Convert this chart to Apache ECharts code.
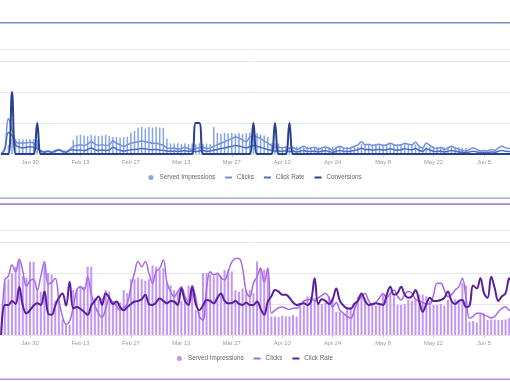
<!DOCTYPE html>
<html><head><meta charset="utf-8">
<script src="https://cdn.jsdelivr.net/npm/echarts@6/dist/echarts.min.js"></script>
<style>html,body{margin:0;padding:0;background:#fff;overflow:hidden}#c{width:510px;height:382px}</style>
</head><body><div id="c"></div>
<script>
// ---- categories (daily, Jan 22 .. Jun 13) ----
const startYear = 2017, startMonth = 0, startDay = 22, dayCount = 143;
const monthNames = ['Jan','Feb','Mar','Apr','May','Jun','Jul','Aug','Sep','Oct','Nov','Dec'];
const tickLabels = ['Jan 30','Feb 13','Feb 27','Mar 13','Mar 27','Apr 10','Apr 24','May 8','May 22','Jun 5'];
const categories = [];
for (let i = 0; i < dayCount; i++) {
  const t = new Date(Date.UTC(startYear, startMonth, startDay) + i * 864e5);
  categories.push(monthNames[t.getUTCMonth()] + ' ' + t.getUTCDate());
}

// ---- top chart (blue) ----
const topImpressions = [
  0, 0, 3, 5, 4.8, 4.8, 4.8, 4.8,
  4.8, 4.8, 4.5, 1, 0.5, 0.4, 0.6, 0.5, 0.4, 0.6,
  0.5, 0.6, 4.5, 6, 6.2, 6, 5.8, 6.2, 6, 5.8,
  6, 6.2, 5.8, 5.5, 5.5, 5.3, 5.5, 5.6, 7, 7.5,
  8.5, 8.8, 8.2, 8.7, 8.5, 8.8, 8.6, 8.4, 5, 3.5,
  3.4, 3.5, 3.2, 3.5, 3.3, 3.4, 3.2, 3.5, 3.3, 3.4,
  3.2, 8.7, 6.8, 6.6, 6.8, 6.7, 6.9, 6.6, 6.8, 6.5,
  6.7, 7, 7.2, 6.8, 6.3, 6, 5.5, 3.5, 3.5, 3.4,
  2.3, 2.4, 2.2, 2.3, 2.4, 2.3, 2.2, 2.4, 2.3, 2.3,
  2.2, 2.4, 2.3, 2.3, 2.2, 2.4, 2.3, 2.3, 2.2, 2.3,
  2.4, 2.3, 3.2, 3.3, 3.2, 3.1, 3.3, 3.2, 3.2, 3.3,
  3.2, 3.1, 3.3, 3.2, 3.2, 3.3, 3.2, 3.1, 2.3, 2.4,
  2.3, 2.2, 2.4, 2.3, 2.3, 2.2, 2.4, 2.3, 2.2, 2.3,
  2.1, 2, 0.3, 0.3, 0.2, 0.3, 0.3, 0.2, 0.3, 0.3,
  0.2, 0.3, 0.3, 0.2, 0.3
];
const topClicks = [
  0, 2, 11.5, 8, 4, 3.5, 3.6, 3.6,
  3.8, 3.5, 2.5, 1, 0.8, 1, 0.7, 1.2, 1.5, 1,
  0.8, 1.5, 2.5, 2.8, 3, 2.8, 3.2, 4, 3.2, 2.8,
  3, 2.8, 3, 4.2, 3.5, 3, 2.5, 3, 3.5, 3.8,
  4, 4.2, 4, 3.8, 3.5, 3.5, 3.2, 2.8, 2, 1.8,
  2, 1.6, 1.8, 2.2, 1.7, 1.5, 1.8, 2, 2.2, 1.8,
  2, 2.5, 3, 3.5, 4, 4.5, 5, 5.5, 5.2, 4.5,
  4, 5.5, 6, 5.5, 5, 4.2, 3.5, 2.8, 2.2, 2.2,
  2, 2.3, 1.8, 2.2, 1.5, 2, 2.5, 1.8, 2, 2.2,
  1.5, 2, 2.3, 1.8, 1.2, 2, 2.5, 2, 1.8, 2,
  2.5, 3, 4, 3, 3.2, 2.8, 3, 3.2, 2.8, 3,
  3.5, 3, 2.8, 3, 3.5, 3.2, 3, 3.8, 2.5, 2,
  3.6, 2.8, 2, 1.8, 2.2, 1.5, 2, 2.5, 2, 1.5,
  1.2, 1, 1.5, 2, 1.5, 1, 1.2, 1, 1.5, 1.2,
  2, 2.5, 2, 1.8, 2
];
const topClickRate = [
  0, 1.5, 7, 6, 3, 2.3, 2, 2.2,
  2.4, 2.2, 1.8, 1, 0.6, 0.9, 0.5, 0.9, 1.3, 0.8,
  0.6, 1.2, 1.4, 1.2, 1.3, 1.1, 1.5, 2, 1.4, 1.2,
  1.3, 1.2, 1.3, 2.2, 1.6, 1.2, 1, 1.2, 1.4, 1.5,
  1.6, 1.8, 1.7, 1.5, 1.4, 1.5, 1.3, 1.2, 1, 0.9,
  1, 0.8, 1, 1.1, 0.9, 1, 0.8, 1, 1.2, 0.9,
  1, 1.3, 1.5, 1.8, 2, 2.3, 2.5, 2.8, 2.6, 2.3,
  2, 2.4, 2.8, 2.5, 2.2, 1.8, 1.5, 1.2, 1, 1,
  0.9, 1.1, 0.8, 1, 0.7, 0.9, 1.2, 0.8, 0.9, 1,
  0.7, 0.9, 1.1, 0.8, 0.6, 0.9, 1.2, 0.9, 0.8, 0.9,
  1.2, 1.4, 1.9, 1.4, 1.5, 1.3, 1.4, 1.5, 1.3, 1.4,
  1.7, 1.4, 1.3, 1.4, 1.7, 1.5, 1.4, 1.8, 1.2, 0.9,
  1.7, 1.3, 0.9, 0.8, 1, 0.7, 0.9, 1.2, 0.9, 0.7,
  0.6, 0.5, 0.7, 0.9, 0.7, 0.5, 0.6, 0.5, 0.7, 0.6,
  0.9, 1.2, 0.9, 0.8, 0.9
];
const topConversions = [
  0, 0, 0, 20, 0, 0, 0, 0,
  0, 0, 10, 0, 0, 0, 0, 0, 0, 0,
  0, 0, 0, 0, 0, 0, 0, 0, 0, 0,
  0, 0, 0, 0, 0, 0, 0, 0, 0, 0,
  0, 0, 0, 0, 0, 0, 0, 0, 0, 0,
  0, 0, 0, 0, 0, 0, 10, 10, 0, 0,
  0, 0, 0, 0, 0, 0, 0, 0, 0, 0,
  0, 0, 10, 0, 0, 0, 0, 0, 10, 0,
  0, 0, 10, 0, 0, 0, 0, 0, 0, 0,
  0, 0, 0, 0, 0, 0, 0, 0, 0, 0,
  0, 0, 0, 0, 0, 0, 0, 0, 0, 0,
  0, 0, 0, 0, 0, 0, 0, 0, 0, 0,
  0, 0, 0, 0, 0, 0, 0, 0, 0, 0,
  0, 0, 0, 0, 0, 0, 0, 0, 0, 0,
  0, 0, 0, 0, 0
];

// ---- bottom chart (purple) ----
const botImpressions = [
  0, 17, 18, 20, 22, 24, 19, 18.5,
  23.6, 23.6, 15, 14, 23, 20, 19.5, 11, 11, 5,
  3.5, 3.2, 14.5, 15, 15.6, 15.6, 22, 22, 12, 11.5,
  12, 14.5, 14, 11, 11, 10.5, 14.5, 13.5, 18, 18,
  18.5, 18, 17.5, 18, 22.5, 22, 21, 21.5, 16.7, 16,
  14.5, 14, 11, 11.5, 16, 15.5, 8, 7.5, 20, 20,
  19.5, 19, 19.5, 19, 21, 21, 20.5, 14.5, 14, 15,
  14.5, 14.5, 13.5, 23.7, 21.5, 21, 21.5, 6, 6, 5.8,
  6.2, 6, 6, 6.5, 6, 9, 9.5, 12.4, 12.4, 12,
  10, 10, 10.5, 12.4, 12, 7.5, 7.5, 7, 9, 9,
  9.5, 12.4, 12.4, 12, 9.7, 9.7, 9.5, 10, 13, 13,
  13.5, 12.5, 9.7, 9.7, 10, 11.3, 11, 11.5, 13, 13,
  12.5, 11, 9.7, 9.7, 10, 9.5, 11.3, 11, 11.5, 11,
  16.7, 16, 4.3, 4.5, 4, 7, 7, 4.8, 5, 5,
  4.8, 4.8, 5, 5.5, 5
];
const botClicks = [
  0, 17.7, 19, 22.6, 20.4, 24.5, 20.5, 15.8,
  17.5, 18, 14.5, 19, 23.7, 16.5, 17, 18.3, 11.5, 6,
  3.5, 4.5, 9.1, 14.5, 15.6, 14.5, 18.8, 13, 9.5, 7,
  5.8, 8.5, 11.8, 10.5, 9.4, 8, 8.8, 10.2, 15.5, 20,
  23.7, 22, 23.7, 20, 16.7, 20.5, 21.5, 24.2, 17, 14,
  12.4, 14, 15.6, 12.5, 10.5, 16, 12, 6, 4.8, 15,
  20.4, 19.4, 19.9, 18.5, 17.7, 20.5, 23.5, 24.7, 24.7, 21.5,
  14, 12.4, 16.7, 18.8, 21.5, 17, 21.5, 7, 8, 8.8,
  9, 8.6, 8.2, 8.6, 8.6, 9.5, 11, 11.3, 11.6, 11,
  12, 12.8, 13.4, 12, 9, 10.5, 8, 7, 6, 5.4,
  8, 11, 12.4, 13.4, 11, 9.7, 10.5, 12, 13.4, 12,
  13.5, 14.5, 12.5, 11.3, 13, 14, 13.5, 11.5, 11, 10.5,
  10, 10, 13, 16.7, 16.7, 14.5, 12.4, 13, 14.5, 15.5,
  18.3, 12, 5.4, 6, 7, 7, 6.5, 6, 5.5, 6,
  7.5, 8.6, 9, 8, 8.5
];
const botClickRate = [
  0, 9.7, 9.7, 11, 10, 15.5, 9.5, 7,
  8, 9.5, 10.2, 9.7, 14, 7, 6.5, 9.5, 12, 13.4,
  9.5, 17.2, 8.6, 9, 8.4, 7.5, 6.5, 9.5, 11, 12.4,
  9.7, 13.5, 12, 10, 10.8, 9, 8, 9, 10, 10.8,
  11, 11.5, 13, 10, 9.7, 10.5, 11.8, 11, 10.2, 11,
  10.8, 9.7, 15, 11, 9.7, 15.6, 10, 8, 9.5, 11.3,
  11, 10.2, 12, 13.4, 11, 10.2, 10.3, 11, 10, 9.7,
  10.5, 9.7, 9.7, 10.8, 8.5, 6.5, 10.8, 12.5, 14.5, 14,
  13, 13, 12, 10.5, 9.7, 10, 10.2, 9.7, 11, 18.3,
  10, 11.5, 11, 10, 11.5, 15, 11, 9.5, 8.6, 8.5,
  10, 11, 13.4, 11, 9.7, 10, 10.2, 10, 9.7, 13,
  15.6, 13, 13.5, 15.6, 13, 12, 12.5, 14.5, 11, 7.5,
  10, 12, 11, 11, 11.3, 12, 14, 11, 10, 11,
  11.3, 9, 9.5, 16, 15, 18.3, 13.5, 12, 18.8, 15,
  11, 12.5, 13.5, 18.3, 14
];

// ---- styling ----
const font = '"Liberation Sans", Arial, Helvetica, sans-serif';
const blue = {bar:'#86a4ea', clicks:'#7391dc', rate:'#4e6cc0', conv:'#27408f'};
const purple = {bar:'#c196f4', clicks:'#a769e6', rate:'#5b1e9c'};
const lineIcon = 'path://M0,0H7V2H0Z';
const isTick = (i, v) => tickLabels.indexOf(v) >= 0;
const ZW = '\u200b';

function mkX(g) {
  return {type:'category', gridIndex:g, data:categories, boundaryGap:true,
    axisLine:{show:true, lineStyle:{color:'#e3e3e3', width:1}},
    axisTick:{show:true, interval:isTick, alignWithLabel:true, length:3, lineStyle:{color:'#d6d6d6'}},
    axisLabel:{interval:isTick, color:'#9a9a9a', fontSize:5.8, fontFamily:font, margin:5},
    splitLine:{show:false}};
}
function mkY(g) {
  return {type:'value', gridIndex:g, min:0, max:33.8, interval:10,
    axisLabel:{show:false}, axisLine:{show:false}, axisTick:{show:false},
    splitLine:{show:true, lineStyle:{color:'#e8e8e8', width:1}}};
}
function mkLine(name, data, g, color, w) {
  return {name, type:'line', xAxisIndex:g, yAxisIndex:g, data, smooth:0.4, symbol:'none',
    lineStyle:{color, width:w}, itemStyle:{color}, silent:true};
}
function mkLegend(top, items) {
  return {top, left:'center', padding:0, itemWidth:7, itemHeight:5, itemGap:10, selectedMode:false,
    data:items, formatter:n => n.replace(ZW, ''),
    textStyle:{fontSize:6.3, color:'#666', fontFamily:font}};
}

const chart = echarts.init(document.getElementById('c'), null, {renderer:'canvas'});
chart.setOption({
  animation:false,
  backgroundColor:'#fff',
  grid:[
    {left:-0.6, right:-4.6, top:49.3, height:104.8, containLabel:false, outerBoundsMode:'none'},
    {left:-0.6, right:-4.6, top:230.2, height:104.8, containLabel:false, outerBoundsMode:'none'}
  ],
  xAxis:[mkX(0), mkX(1)],
  yAxis:[mkY(0), mkY(1)],
  legend:[
    mkLegend(174.5, [{name:'Served Impressions', icon:'circle'}, {name:'Clicks', icon:lineIcon},
                     {name:'Click Rate', icon:lineIcon}, {name:'Conversions', icon:lineIcon}]),
    mkLegend(355.5, [{name:'Served Impressions'+ZW, icon:'circle'}, {name:'Clicks'+ZW, icon:lineIcon},
                     {name:'Click Rate'+ZW, icon:lineIcon}])
  ],
  graphic:[
    {type:'rect', silent:true, shape:{x:0, y:22, width:510, height:1.6}, style:{fill:'#7a90cc'}},
    {type:'rect', silent:true, shape:{x:0, y:197.4, width:510, height:1.3}, style:{fill:'#8ea2c9'}},
    {type:'rect', silent:true, shape:{x:0, y:203.3, width:510, height:1.6}, style:{fill:'#a983e2'}},
    {type:'rect', silent:true, shape:{x:0, y:378.4, width:510, height:1.6}, style:{fill:'#b690e8'}}
  ],
  series:[
    {name:'Served Impressions', type:'bar', xAxisIndex:0, yAxisIndex:0, data:topImpressions,
      barWidth:1.5, itemStyle:{color:blue.bar}, silent:true},
    mkLine('Clicks', topClicks, 0, blue.clicks, 1.5),
    mkLine('Click Rate', topClickRate, 0, blue.rate, 1.5),
    mkLine('Conversions', topConversions, 0, blue.conv, 2),
    {name:'Served Impressions'+ZW, type:'bar', xAxisIndex:1, yAxisIndex:1, data:botImpressions,
      barWidth:2, itemStyle:{color:purple.bar}, silent:true},
    mkLine('Clicks'+ZW, botClicks, 1, purple.clicks, 1.5),
    mkLine('Click Rate'+ZW, botClickRate, 1, purple.rate, 2)
  ]
});
</script>
</body></html>
